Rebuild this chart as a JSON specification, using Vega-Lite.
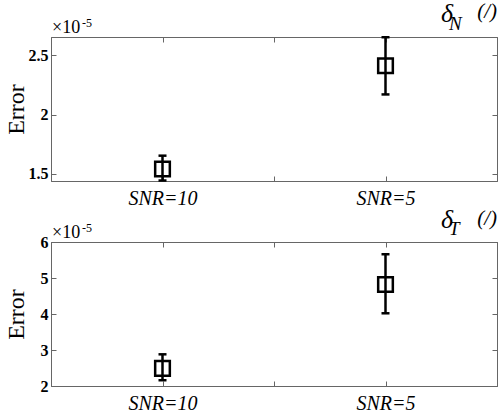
{
  "$schema": "https://vega.github.io/schema/vega-lite/v6.json",
  "padding": {"left": 3, "top": 0, "right": 0, "bottom": 0},
  "background": "white",
  "config": {
    "font": "Liberation Serif",
    "view": {"stroke": "#666666", "strokeWidth": 1},
    "axis": {"grid": false, "domainColor": "#666666", "tickColor": "#666666", "tickSize": -5, "tickWidth": 1, "labelColor": "black", "labelFont": "Liberation Serif", "titleFont": "Liberation Serif", "titleColor": "black", "titleFontSize": 24}
  },
  "datasets": {
    "err": [
      {"panel": "N", "x": 1, "m": 1.542, "lo": 1.445, "hi": 1.654},
      {"panel": "N", "x": 3, "m": 2.41, "lo": 2.169, "hi": 2.65},
      {"panel": "T", "x": 1, "m": 2.49, "lo": 2.16, "hi": 2.88},
      {"panel": "T", "x": 3, "m": 4.82, "lo": 4.02, "hi": 5.66}
    ]
  },
  "vconcat": [
    {
      "width": 446, "height": 144,
      "resolve": {"axis": {"x": "independent", "y": "independent"}},
      "layer": [
        {
          "data": {"name": "err"},
          "transform": [{"filter": "datum.panel == 'N'"}],
          "mark": {"type": "rule", "strokeWidth": 2.5, "color": "black"},
          "encoding": {
            "x": {"field": "x", "type": "quantitative", "scale": {"domain": [0, 4], "nice": false},
              "axis": {"orient": "bottom", "title": null, "values": [1, 2, 3], "labelExpr": "datum.value == 1 ? 'SNR=10' : datum.value == 3 ? 'SNR=5' : ''", "labelFontSize": 20, "labelFontStyle": "italic", "labelPadding": 12}},
            "y": {"field": "lo", "type": "quantitative", "scale": {"domain": [1.441, 2.652], "nice": false, "zero": false},
              "axis": {"orient": "left", "title": "Error", "values": [1.5, 2, 2.5], "format": "~g", "labelFontSize": 16, "labelFontWeight": "bold", "labelPadding": 8, "titleFontSize": 24, "titleFontWeight": "normal", "titlePadding": 0}},
            "y2": {"field": "hi"}
          }
        },
        {
          "data": {"name": "err"},
          "transform": [{"filter": "datum.panel == 'N'"}],
          "mark": {"type": "point", "shape": "square", "size": 215, "filled": false, "strokeWidth": 2.5, "color": "black", "opacity": 1},
          "encoding": {
            "x": {"field": "x", "type": "quantitative", "axis": {"orient": "top", "title": null, "values": [1, 2, 3], "labels": false}},
            "y": {"field": "m", "type": "quantitative", "axis": {"orient": "right", "title": null, "values": [1.5, 2, 2.5], "labels": false}}
          }
        },
        {
          "data": {"name": "err"},
          "transform": [{"filter": "datum.panel == 'N'"}],
          "mark": {"type": "tick", "orient": "horizontal", "size": 8, "thickness": 2.5, "color": "black", "opacity": 1},
          "encoding": {
            "x": {"field": "x", "type": "quantitative", "axis": null},
            "y": {"field": "lo", "type": "quantitative", "axis": null}
          }
        },
        {
          "data": {"name": "err"},
          "transform": [{"filter": "datum.panel == 'N'"}],
          "mark": {"type": "tick", "orient": "horizontal", "size": 8, "thickness": 2.5, "color": "black", "opacity": 1},
          "encoding": {
            "x": {"field": "x", "type": "quantitative", "axis": null},
            "y": {"field": "hi", "type": "quantitative", "axis": null}
          }
        },
        {
          "data": {"values": [{"t": "×10"}]},
          "mark": {"type": "text", "align": "left", "baseline": "alphabetic", "fontSize": 18, "dx": 1, "dy": -4, "clip": false},
          "encoding": {"x": {"datum": 0, "type": "quantitative", "axis": null}, "y": {"datum": 2.652, "type": "quantitative", "axis": null}, "text": {"field": "t"}}
        },
        {
          "data": {"values": [{"t": "-5"}]},
          "mark": {"type": "text", "align": "left", "baseline": "alphabetic", "fontSize": 12, "dx": 31, "dy": -10, "clip": false},
          "encoding": {"x": {"datum": 0, "type": "quantitative", "axis": null}, "y": {"datum": 2.652, "type": "quantitative", "axis": null}, "text": {"field": "t"}}
        },
        {
          "data": {"values": [{"t": "δ"}]},
          "mark": {"type": "text", "align": "left", "baseline": "alphabetic", "fontSize": 26, "fontStyle": "italic", "dx": -56, "dy": -15, "clip": false},
          "encoding": {"x": {"datum": 4, "type": "quantitative", "axis": null}, "y": {"datum": 2.652, "type": "quantitative", "axis": null}, "text": {"field": "t"}}
        },
        {
          "data": {"values": [{"t": "N"}]},
          "mark": {"type": "text", "align": "left", "baseline": "alphabetic", "fontSize": 19, "fontStyle": "italic", "dx": -48, "dy": -7, "clip": false},
          "encoding": {"x": {"datum": 4, "type": "quantitative", "axis": null}, "y": {"datum": 2.652, "type": "quantitative", "axis": null}, "text": {"field": "t"}}
        },
        {
          "data": {"values": [{"t": "(/)"}]},
          "mark": {"type": "text", "align": "right", "baseline": "alphabetic", "fontSize": 21, "fontStyle": "italic", "dx": 0, "dy": -19, "clip": false},
          "encoding": {"x": {"datum": 4, "type": "quantitative", "axis": null}, "y": {"datum": 2.652, "type": "quantitative", "axis": null}, "text": {"field": "t"}}
        }
      ]
    },
    {
      "width": 446, "height": 144,
      "resolve": {"axis": {"x": "independent", "y": "independent"}},
      "layer": [
        {
          "data": {"name": "err"},
          "transform": [{"filter": "datum.panel == 'T'"}],
          "mark": {"type": "rule", "strokeWidth": 2.5, "color": "black"},
          "encoding": {
            "x": {"field": "x", "type": "quantitative", "scale": {"domain": [0, 4], "nice": false},
              "axis": {"orient": "bottom", "title": null, "values": [1, 2, 3], "labelExpr": "datum.value == 1 ? 'SNR=10' : datum.value == 3 ? 'SNR=5' : ''", "labelFontSize": 20, "labelFontStyle": "italic", "labelPadding": 12}},
            "y": {"field": "lo", "type": "quantitative", "scale": {"domain": [2, 6], "nice": false, "zero": false},
              "axis": {"orient": "left", "title": "Error", "values": [2, 3, 4, 5, 6], "format": "~g", "labelFontSize": 16, "labelFontWeight": "bold", "labelPadding": 8, "titleFontSize": 24, "titleFontWeight": "normal", "titlePadding": 12}},
            "y2": {"field": "hi"}
          }
        },
        {
          "data": {"name": "err"},
          "transform": [{"filter": "datum.panel == 'T'"}],
          "mark": {"type": "point", "shape": "square", "size": 215, "filled": false, "strokeWidth": 2.5, "color": "black", "opacity": 1},
          "encoding": {
            "x": {"field": "x", "type": "quantitative", "axis": {"orient": "top", "title": null, "values": [1, 2, 3], "labels": false}},
            "y": {"field": "m", "type": "quantitative", "axis": {"orient": "right", "title": null, "values": [2, 3, 4, 5, 6], "labels": false}}
          }
        },
        {
          "data": {"name": "err"},
          "transform": [{"filter": "datum.panel == 'T'"}],
          "mark": {"type": "tick", "orient": "horizontal", "size": 8, "thickness": 2.5, "color": "black", "opacity": 1},
          "encoding": {
            "x": {"field": "x", "type": "quantitative", "axis": null},
            "y": {"field": "lo", "type": "quantitative", "axis": null}
          }
        },
        {
          "data": {"name": "err"},
          "transform": [{"filter": "datum.panel == 'T'"}],
          "mark": {"type": "tick", "orient": "horizontal", "size": 8, "thickness": 2.5, "color": "black", "opacity": 1},
          "encoding": {
            "x": {"field": "x", "type": "quantitative", "axis": null},
            "y": {"field": "hi", "type": "quantitative", "axis": null}
          }
        },
        {
          "data": {"values": [{"t": "×10"}]},
          "mark": {"type": "text", "align": "left", "baseline": "alphabetic", "fontSize": 18, "dx": 1, "dy": -4, "clip": false},
          "encoding": {"x": {"datum": 0, "type": "quantitative", "axis": null}, "y": {"datum": 6, "type": "quantitative", "axis": null}, "text": {"field": "t"}}
        },
        {
          "data": {"values": [{"t": "-5"}]},
          "mark": {"type": "text", "align": "left", "baseline": "alphabetic", "fontSize": 12, "dx": 31, "dy": -10, "clip": false},
          "encoding": {"x": {"datum": 0, "type": "quantitative", "axis": null}, "y": {"datum": 6, "type": "quantitative", "axis": null}, "text": {"field": "t"}}
        },
        {
          "data": {"values": [{"t": "δ"}]},
          "mark": {"type": "text", "align": "left", "baseline": "alphabetic", "fontSize": 26, "fontStyle": "italic", "dx": -56, "dy": -14, "clip": false},
          "encoding": {"x": {"datum": 4, "type": "quantitative", "axis": null}, "y": {"datum": 6, "type": "quantitative", "axis": null}, "text": {"field": "t"}}
        },
        {
          "data": {"values": [{"t": "T"}]},
          "mark": {"type": "text", "align": "left", "baseline": "alphabetic", "fontSize": 19, "fontStyle": "italic", "dx": -48, "dy": -7, "clip": false},
          "encoding": {"x": {"datum": 4, "type": "quantitative", "axis": null}, "y": {"datum": 6, "type": "quantitative", "axis": null}, "text": {"field": "t"}}
        },
        {
          "data": {"values": [{"t": "(/)"}]},
          "mark": {"type": "text", "align": "right", "baseline": "alphabetic", "fontSize": 21, "fontStyle": "italic", "dx": 0, "dy": -17, "clip": false},
          "encoding": {"x": {"datum": 4, "type": "quantitative", "axis": null}, "y": {"datum": 6, "type": "quantitative", "axis": null}, "text": {"field": "t"}}
        }
      ]
    }
  ],
  "spacing": 61,
  "bounds": "flush"
}
